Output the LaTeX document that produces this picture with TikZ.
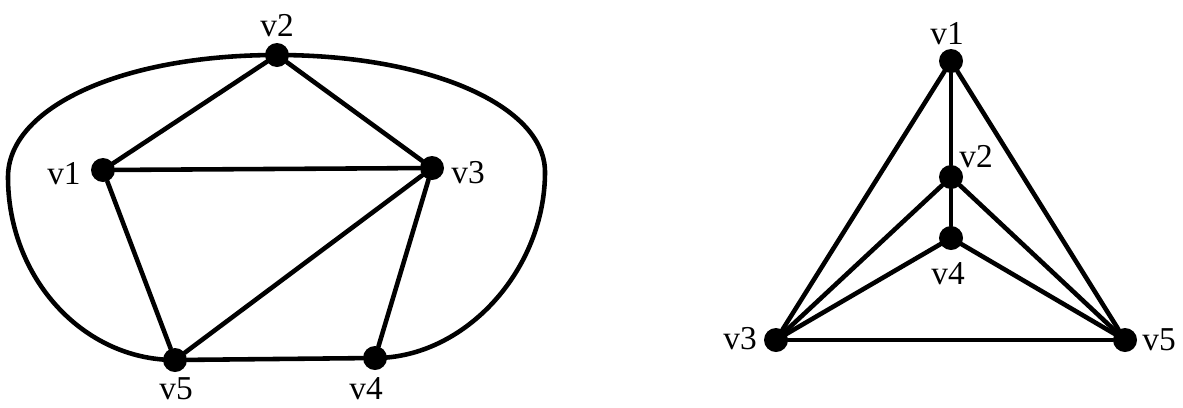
\documentclass[tikz,border=0pt]{standalone}
\usepackage{fontspec}
\setmainfont{Liberation Serif}
\usepackage{tikz}
\usetikzlibrary{positioning, calc}

\tikzset{
    vtx/.style={circle, fill=black, inner sep=0pt, minimum size=0.48cm},
    lbl/.style={inner sep=0pt, font=\fontsize{19}{21}\selectfont},
    edge/.style={line width=2.6pt, line cap=round}
}

\begin{document}
\begin{tikzpicture}[x=0.02cm, y=-0.02cm]
    \useasboundingbox (0, 0) rectangle (1183, 407);

    % 左图顶点
    \node[vtx] (a1) at (103, 170) {};
    \node[vtx] (a2) at (277, 55) {};
    \node[vtx] (a3) at (432, 168) {};
    \node[vtx] (a4) at (375, 358) {};
    \node[vtx] (a5) at (175, 360) {};

    % 左图标注
    \node[lbl] (la1) at (64, 174) {v1};
    \node[lbl] (la2) at (277, 26) {v2};
    \node[lbl] (la3) at (468, 173) {v3};
    \node[lbl] (la4) at (366, 389) {v4};
    \node[lbl] (la5) at (176, 389) {v5};

    % 左图边
    \foreach \u/\v in {a2/a1, a2/a3, a1/a3, a1/a5, a3/a5, a3/a4, a5/a4} {
        \draw[edge] (\u) -- (\v);
    }

    % 外圈曲线
    \coordinate (lw) at (8, 177);
    \coordinate (le) at (545, 172);
    \draw[edge] (a2.center) .. controls (120, 55) and (8, 108) .. (lw)
        .. controls (8, 278) and (83, 360) .. (a5.center);
    \draw[edge] (a2.center) .. controls (430, 55) and (545, 106) .. (le)
        .. controls (545, 270) and (465, 358) .. (a4.center);

    % 右图顶点
    \node[vtx] (b1) at (951, 61) {};
    \node[vtx] (b2) at (951, 177) {};
    \node[vtx] (b3) at (776, 340) {};
    \node[vtx] (b4) at (951, 238) {};
    \node[vtx] (b5) at (1125, 340) {};

    % 右图标注
    \node[lbl] (lb1) at (947, 34) {v1};
    \node[lbl] (lb2) at (976, 157) {v2};
    \node[lbl] (lb3) at (740, 339) {v3};
    \node[lbl] (lb4) at (948, 274) {v4};
    \node[lbl] (lb5) at (1159, 340) {v5};

    % 右图边
    \foreach \u/\v in {b1/b2, b2/b4, b1/b3, b1/b5, b2/b3, b2/b5, b4/b3, b4/b5, b3/b5} {
        \draw[edge] (\u) -- (\v);
    }
\end{tikzpicture}
\end{document}
